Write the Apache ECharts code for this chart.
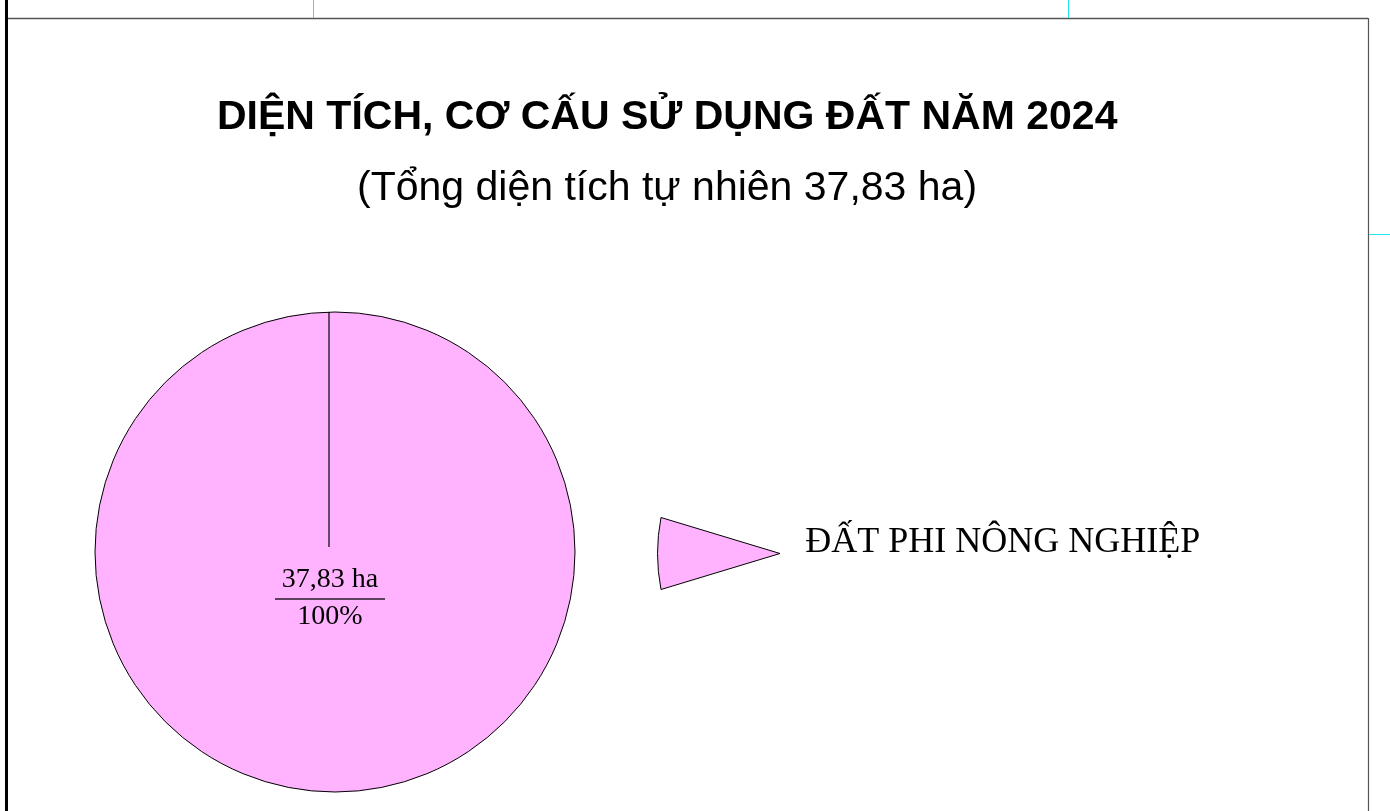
<!DOCTYPE html>
<html>
<head>
<meta charset="utf-8">
<script src="https://cdn.jsdelivr.net/npm/echarts@6/dist/echarts.min.js"></script>
<style>
  html, body { margin: 0; padding: 0; background: #fff; }
  #chart { width: 1390px; height: 811px; }
</style>
</head>
<body>
<div id="chart"></div>
<script>
var titleText = 'DIỆN TÍCH, CƠ CẤU SỬ DỤNG ĐẤT NĂM 2024';
var subText = '(Tổng diện tích tự nhiên 37,83 ha)';
var categories = ['ĐẤT PHI NÔNG NGHIỆP'];
var areas = [37.83];
var percents = ['100%'];
var colors = ['#ffb3ff'];

var chartDom = document.getElementById('chart');
var chart = echarts.init(chartDom);

var pieData = categories.map(function (name, i) {
  return { name: name, value: areas[i], pct: percents[i], itemStyle: { color: colors[i] } };
});

var option = {
  animation: false,
  backgroundColor: '#fff',
  title: [{
    text: titleText,
    left: 212,
    top: 92,
    textStyle: { fontFamily: 'Liberation Sans, Arial', fontWeight: 'bold', fontSize: 41, color: '#000' }
  }, {
    text: subText,
    left: 352,
    top: 163,
    textStyle: { fontFamily: 'Liberation Sans, Arial', fontWeight: 'normal', fontSize: 41, color: '#000' }
  }],
  legend: {
    orient: 'vertical',
    left: 652,
    top: 512,
    itemWidth: 123,
    itemHeight: 72,
    icon: 'path://M123,36 L4,0 Q-3,36 4,72 Z',
    itemStyle: { borderColor: '#000', borderWidth: 1 },
    formatter: function (name) {
      return name + '\n{e|}';
    },
    textStyle: {
      fontFamily: 'Liberation Serif, Times New Roman',
      fontSize: 36,
      color: '#000',
      padding: [0, 0, 0, 20],
      rich: { e: { lineHeight: 21 } }
    },
    data: categories
  },
  series: [{
    type: 'pie',
    center: [335, 552],
    radius: 240,
    startAngle: 90,
    clockwise: true,
    itemStyle: { borderColor: '#000', borderWidth: 1 },
    emphasis: { disabled: true },
    label: {
      show: true,
      position: 'center',
      formatter: function (p) {
        return '{a|' + p.value.toFixed(2).replace('.', ',') + ' ha}\n{hr|}\n{b|' + p.data.pct + '}';
      },
      rich: {
        a: { fontFamily: 'Liberation Serif, Times New Roman', fontSize: 28, color: '#000', lineHeight: 38, align: 'center' },
        hr: { width: 110, height: 0, borderWidth: 0.8, borderColor: '#000', align: 'center' },
        b: { fontFamily: 'Liberation Serif, Times New Roman', fontSize: 28, color: '#000', lineHeight: 36, align: 'center' }
      }
    },
    labelLayout: { dx: -2.5, dy: 23 },
    labelLine: { show: false },
    data: pieData
  }]
};

chart.setOption(option);

// radial edge of the single slice and the page frame
var layout = chart.getModel().getSeriesByIndex(0).getData().getItemLayout(0);
var sa = layout.startAngle;
chart.setOption({
  graphic: [
    { type: 'line', silent: true, z: 100, shape: { x1: layout.cx - 6, y1: layout.cy - 5, x2: layout.cx - 6 + layout.r * Math.cos(sa), y2: layout.cy + layout.r * Math.sin(sa) }, style: { stroke: '#000', lineWidth: 1.2 } },
    { type: 'line', silent: true, z: 100, shape: { x1: 6.5, y1: 0, x2: 6.5, y2: 811 }, style: { stroke: '#000', lineWidth: 3 } },
    { type: 'line', silent: true, z: 100, shape: { x1: 8, y1: 18.5, x2: 1368, y2: 18.5 }, style: { stroke: '#555', lineWidth: 1.5 } },
    { type: 'line', silent: true, z: 100, shape: { x1: 1368.5, y1: 18, x2: 1368.5, y2: 811 }, style: { stroke: '#555', lineWidth: 1.2 } },
    { type: 'line', silent: true, z: 100, shape: { x1: 313.5, y1: 0, x2: 313.5, y2: 18 }, style: { stroke: '#22e5ee', lineWidth: 1 } },
    { type: 'line', silent: true, z: 100, shape: { x1: 1068.5, y1: 0, x2: 1068.5, y2: 18 }, style: { stroke: '#22e5ee', lineWidth: 1 } },
    { type: 'line', silent: true, z: 100, shape: { x1: 1369, y1: 234.5, x2: 1390, y2: 234.5 }, style: { stroke: '#22e5ee', lineWidth: 1 } }
  ]
});

window.addEventListener('resize', function () {
  chart.resize();
});
</script>
</body>
</html>
